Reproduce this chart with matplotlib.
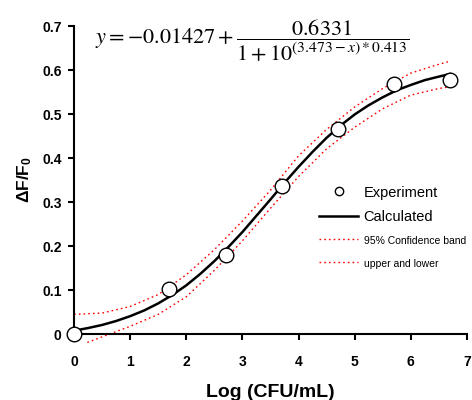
import matplotlib
matplotlib.use('Agg')
import matplotlib.pyplot as plt
from matplotlib.lines import Line2D

plt.rcParams['font.family'] = ['Liberation Sans', 'DejaVu Sans']
plt.rcParams['mathtext.fontset'] = 'custom'
plt.rcParams['mathtext.rm'] = 'Liberation Sans'
plt.rcParams['mathtext.bf'] = 'Liberation Sans:bold'

# -----------------------------
# Data
# -----------------------------
exp_x = [0, 1.7, 2.7, 3.7, 4.7, 5.7, 6.7]
exp_y = [0.0, 0.103, 0.181, 0.337, 0.465, 0.568, 0.578]

calc_x = [0, 0.25, 0.5, 0.75, 1, 1.25, 1.5, 1.75, 2, 2.25, 2.5, 2.75, 3, 3.25,
          3.5, 3.75, 4, 4.25, 4.5, 4.75, 5, 5.25, 5.5, 5.75, 6, 6.25, 6.5, 6.7]
calc_y = [0.008, 0.014, 0.021, 0.030, 0.041, 0.054, 0.070, 0.089, 0.111, 0.137,
          0.166, 0.198, 0.232, 0.269, 0.306, 0.344, 0.380, 0.414, 0.446, 0.474,
          0.499, 0.520, 0.538, 0.554, 0.566, 0.577, 0.585, 0.591]

band_x = [0, 0.5, 1, 1.5, 2, 2.5, 3, 3.5, 4, 4.5, 5, 5.5, 6, 6.5, 6.7]
upper_y = [0.045, 0.048, 0.063, 0.090, 0.135, 0.192, 0.257, 0.327, 0.405, 0.465,
           0.516, 0.558, 0.593, 0.613, 0.620]
lower_y = [-0.030, -0.006, 0.018, 0.045, 0.085, 0.145, 0.212, 0.286, 0.358, 0.421,
           0.470, 0.512, 0.543, 0.558, 0.562]

equation = r'$y=-0.01427+\dfrac{0.6331}{1+10^{(3.473-x)*0.413}}$'

# -----------------------------
# Plot
# -----------------------------
fig = plt.figure(figsize=(4.72, 4.0), dpi=100)
ax = fig.add_axes([0.157, 0.1425, 0.832, 0.7925])

band_style = dict(color='red', lw=1.0, ls=(0, (1.2, 2.2)))
ax.plot(band_x, upper_y, **band_style)
ax.plot(band_x, lower_y, **band_style)
ax.plot(calc_x, calc_y, color='black', lw=1.8)
ax.plot(exp_x, exp_y, 'o', ms=10.5, mfc='white', mec='black', mew=1.0,
        clip_on=False, zorder=5)

ax.set_xlim(0, 7)
ax.set_ylim(-0.02, 0.7)
ax.spines['top'].set_visible(False)
ax.spines['right'].set_visible(False)
ax.spines['bottom'].set_position(('data', 0))
ax.spines['left'].set_bounds(0, 0.7)
for s in ('left', 'bottom'):
    ax.spines[s].set_linewidth(1.5)

ax.set_xticks(range(8))
ax.set_yticks([0, 0.1, 0.2, 0.3, 0.4, 0.5, 0.6, 0.7])
ax.set_yticklabels(['0', '0.1', '0.2', '0.3', '0.4', '0.5', '0.6', '0.7'])
ax.tick_params(direction='out', length=4, width=1.5, labelsize=10)
ax.tick_params(axis='x', pad=11)
ax.tick_params(axis='y', pad=5)
for t in ax.get_xticklabels() + ax.get_yticklabels():
    t.set_fontweight('bold')

ax.set_xlabel('Log (CFU/mL)', fontsize=14, fontweight='bold')
ax.xaxis.set_label_coords(0.5, -0.128)
ax.set_ylabel(r'$\mathbf{\Delta F/F_0}$', fontsize=12.5)
ax.yaxis.set_label_coords(-0.102, 0.517)

fig.text(95 / 472, 1 - 41 / 400, equation, fontsize=16, math_fontfamily='stix',
         va='center', ha='left')

handles = [
    Line2D([], [], ls='none', marker='o', ms=6, mfc='white', mec='black'),
    Line2D([], [], color='black', lw=1.8),
    Line2D([], [], **band_style),
    Line2D([], [], **band_style),
]
labels = ['Experiment', 'Calculated', '95% Confidence band', 'upper and lower']
leg = ax.legend(handles, labels, loc='upper left', bbox_to_anchor=(0.61, 0.515),
                frameon=False, fontsize=10.5, handlelength=2.67, handletextpad=0.35,
                labelspacing=0.7, borderaxespad=0)
for t in leg.get_texts()[2:]:
    t.set_fontsize(7.5)

fig.savefig('out.png', dpi=100)
